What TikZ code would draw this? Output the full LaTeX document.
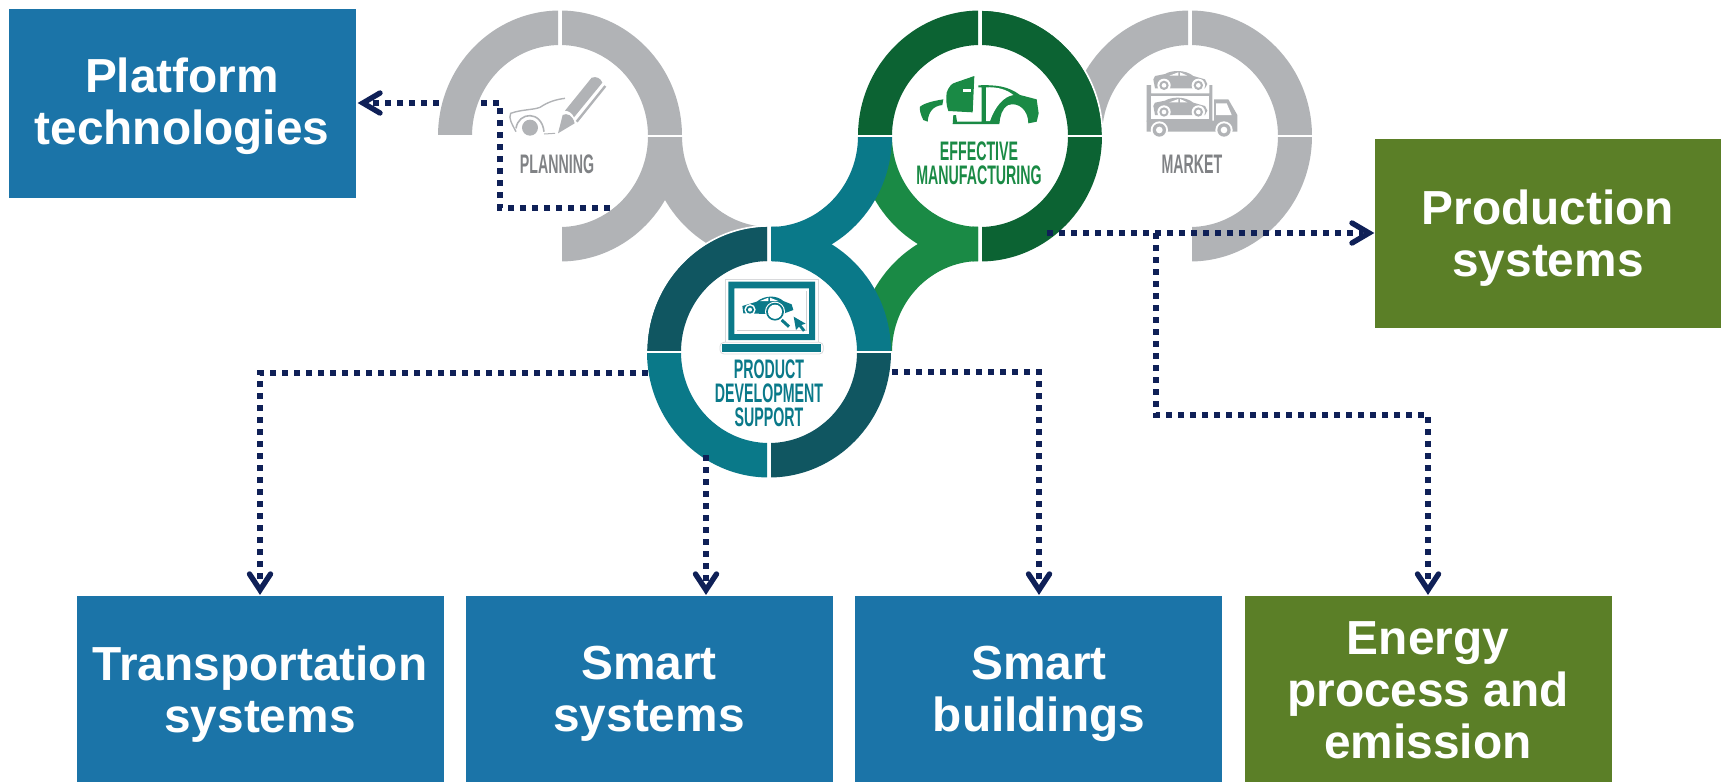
\documentclass[tikz,border=0pt]{standalone}
\usepackage{fontspec}
\setmainfont{Liberation Sans}
\newfontfamily\condfont[FakeStretch=0.53]{Liberation Sans Bold}
\definecolor{boxblue}{HTML}{1B74A8}
\definecolor{boxgreen}{HTML}{5B7F27}
\definecolor{navy}{HTML}{0F2057}
\definecolor{ringgrey}{HTML}{B1B3B6}
\definecolor{labgrey}{HTML}{808285}
\definecolor{dkgreen}{HTML}{0C6333}
\definecolor{ltgreen}{HTML}{1A8A45}
\definecolor{teal1}{HTML}{0A7989}
\definecolor{dkteal}{HTML}{105661}
\newcommand{\qring}[6]{%
  \begin{scope}
    \clip (#1+#3*2,#2+#4*1.8) rectangle (#1+#3*140,#2+#4*140);
    \fill[#5,even odd rule] (#1,#2) ellipse [x radius=122,y radius=125.5]
                            (#1,#2) ellipse [x radius=88,y radius=91];
    \draw[draw=#6,line width=.8pt] (#1,#2) ellipse [x radius=122.6,y radius=126.1];
  \end{scope}}
\tikzset{
  boxlabel/.style={text=white,font=\fontsize{23.9}{26}\selectfont\bfseries,align=center,inner sep=0pt},
  ringlabel/.style={font=\fontsize{13.4}{12}\selectfont\condfont,align=center,inner sep=0pt},
  dotline/.style={draw=navy,line width=3.2pt,dash pattern=on 3.2pt off 2.8pt},
  chev/.style={draw=navy,line width=2.7pt,line cap=round,line join=miter},
}
\begin{document}
\begin{tikzpicture}[x=.5pt,y=-.5pt]
\useasboundingbox (0,0) rectangle (1725,782);
% boxes
\path[fill=boxblue] (9,9) rectangle (356,198) node[midway,inner sep=0pt] (platform) {};
\path[fill=boxgreen] (1375,139) rectangle (1721,328) node[midway,inner sep=0pt] (production) {};
\path[fill=boxblue] (77,596) rectangle (444,782) node[midway,inner sep=0pt] (transport) {};
\path[fill=boxblue] (466,596) rectangle (833,782) node[midway,inner sep=0pt] (smartsys) {};
\path[fill=boxblue] (855,596) rectangle (1222,782) node[midway,inner sep=0pt] (smartbld) {};
\path[fill=boxgreen] (1245,596) rectangle (1612,782) node[midway,inner sep=0pt] (energy) {};
\node[boxlabel] (platformtxt) at (182,106.5) {Platform\\technologies};
\node[boxlabel] (productiontxt) at (1548,238.5) {Production\\systems};
\node[boxlabel] (transporttxt) at (260,694) {Transportation\\systems};
\node[boxlabel] (smartsystxt) at (649,694) {Smart\\systems};
\node[boxlabel] (smartbldtxt) at (1039,694) {Smart\\buildings};
\node[boxlabel] (energytxt) at (1428,690.5) {Energy\\process and\\emission};
% anchors
\coordinate (planA) at (610,208);
\coordinate (planB) at (500,208);
\coordinate (planC) at (500,103);
\coordinate (platIn) at (357,103);
% planning connector (behind rings)
\draw[dotline] (planA) -- (planB) -- (planC) -- ([xshift=6pt]platIn);
% rings: grey
\qring{560}{136}{-1}{-1}{ringgrey}{none}
\qring{560}{136}{1}{-1}{ringgrey}{none}
\qring{560}{136}{1}{1}{ringgrey}{none}
\qring{770}{136}{-1.5}{1}{ringgrey}{none}
\qring{1190}{136}{-1}{-1}{ringgrey}{none}
\qring{1190}{136}{1}{-1}{ringgrey}{none}
\qring{1190}{136}{1}{1}{ringgrey}{none}
% light green
\qring{980}{136}{-1}{1}{ltgreen}{none}
\qring{980}{352}{-1}{-1}{ltgreen}{none}
% teal
\qring{770}{136}{1}{1}{teal1}{none}
\qring{769}{352}{1}{-1}{teal1}{none}
\qring{769}{352}{-1}{1}{teal1}{none}
\qring{769}{352}{1}{1}{dkteal}{none}
\qring{769}{352}{-1}{-1}{dkteal}{white}
% dark green
\qring{980}{136}{-1}{-1}{dkgreen}{none}
\qring{980}{136}{1}{-1}{dkgreen}{white}
\qring{980}{136}{1}{1}{dkgreen}{none}
% labels
\node[ringlabel,text=labgrey] (planninglab) at (557,164) {PLANNING};
\node[ringlabel,text=labgrey] (marketlab) at (1192,164) {MARKET};
\node[ringlabel,text=ltgreen] (efflab) at (979,163) {EFFECTIVE\\MANUFACTURING};
\node[ringlabel,text=teal1] (prodlab) at (769,393) {PRODUCT\\DEVELOPMENT\\SUPPORT};
% planning icon
\begin{scope}[shift={(390,0)},x=.1666667pt,y=-.1666667pt]
  \fill[ringgrey] (420,383) circle [radius=24];
  \draw[ringgrey,line width=.7pt] (378,395) .. controls (365,370) and (355,355) .. (362,340)
     .. controls (395,328) and (430,330) .. (450,322) .. controls (475,305) and (500,298) .. (525,295);
  \draw[ringgrey,line width=.8pt] (378,385) .. controls (385,335) and (455,330) .. (462,395);
  \draw[ringgrey,line width=.5pt] (462,402) -- (495,400);
  \fill[ringgrey] (504,400) -- (518,345) .. controls (530,338) and (548,345) .. (554,370) -- cycle;
  \fill[ringgrey] (525,332) -- (605,233) .. controls (620,228) and (632,235) .. (637,248) -- (552,352) .. controls (548,340) and (535,332) .. (525,332) -- cycle;
  \draw[ringgrey,line width=1.2pt] (646,258) -- (560,365);
\end{scope}
% market icon
\begin{scope}[shift={(1130,50)},x=.1666667pt,y=-.1666667pt]
  \fill[ringgrey] (50,208) -- (50,105) -- (63,105) -- (63,130) -- (238,130) -- (238,105) -- (247,105) -- (247,215) -- (50,215) -- cycle;
  \fill[white] (63,138) rectangle (238,208);
  \fill[ringgrey] (50,212) -- (252,212) -- (252,148) -- (295,148) -- (322,195) -- (322,245) -- (50,245) -- cycle;
  \fill[white] (258,160) -- (290,160) -- (305,195) -- (258,195) -- cycle;
  \foreach \dy in {0,80}{
    \fill[ringgrey] (70,88+\dy) -- (75,78+\dy) -- (105,72+\dy) .. controls (125,60+\dy) and (165,58+\dy) .. (190,78+\dy) -- (225,88+\dy) -- (232,102+\dy) -- (225,115+\dy) -- (75,115+\dy) -- cycle;
    \fill[white] (118,77+\dy) -- (145,67+\dy) -- (145,77+\dy) -- cycle (150,67+\dy) -- (172,77+\dy) -- (150,77+\dy) -- cycle;
    \foreach \wx in {102,205}{
      \fill[white] (\wx,106+\dy) circle [radius=20];
      \fill[ringgrey] (\wx,106+\dy) circle [radius=14];
      \fill[white] (\wx,106+\dy) circle [radius=7];
    }
  }
  \foreach \wx in {88,282}{
    \fill[white] (\wx,240) circle [radius=26];
    \fill[ringgrey] (\wx,240) circle [radius=20];
    \fill[white] (\wx,240) circle [radius=10];
  }
\end{scope}
% effective icon
\begin{scope}[shift={(880,50)},x=.1666667pt,y=-.1666667pt]
  \fill[ltgreen] (120,170) .. controls (135,158) and (165,152) .. (190,148) -- (187,165) .. controls (160,168) and (145,185) .. (143,215) -- (130,210) .. controls (122,195) and (118,180) .. (120,170) -- cycle;
  \fill[ltgreen] (200,128) .. controls (205,112) and (215,100) .. (225,98) -- (283,78) -- (278,187) -- (205,183) .. controls (198,165) and (198,145) .. (200,128) -- cycle;
  \fill[white] (250,118) rectangle (272,127);
  \fill[ltgreen] (220,195) -- (228,195) -- (231,215) -- (305,215) -- (305,112) -- (295,112) -- (295,106) .. controls (345,104) and (385,108) .. (420,135) -- (470,148) -- (476,190) -- (470,215) -- (445,220) .. controls (445,180) and (415,155) .. (385,165) .. controls (365,175) and (360,200) .. (358,222) -- (218,222) -- cycle;
  \fill[white] (318,112) .. controls (350,110) and (380,118) .. (400,135) .. controls (370,140) and (345,170) .. (330,213) -- (318,213) -- cycle;
\end{scope}
% product icon
\begin{scope}[shift={(715,275)},x=.1666667pt,y=-.1666667pt]
  \draw[ringgrey!50,line width=.4pt] (30,200) -- (30,12) -- (310,12) -- (310,200);
  \draw[ringgrey!50,line width=.4pt,rounded corners=2pt] (15,202) rectangle (325,237);
  \fill[teal1,even odd rule] (40,20) rectangle (300,195) (58,40) rectangle (282,177);
  \fill[teal1] (22,206) rectangle (318,230);
  \draw[ringgrey!60,line width=.4pt] (66,167) -- (275,167) -- (275,47);
  \fill[teal1] (82,93) -- (125,80) .. controls (150,60) and (185,60) .. (205,78) -- (230,88) -- (235,105) -- (200,118) -- (85,115) -- cycle;
  \fill[white] (135,78) -- (160,68) -- (160,78) -- cycle (165,68) -- (190,78) -- (165,78) -- cycle;
  \fill[white] (105,104) circle [radius=17];
  \fill[teal1] (105,104) circle [radius=12];
  \fill[white] (105,104) circle [radius=6];
  \draw[white,line width=1pt] (180,110) circle [radius=27];
  \draw[teal1,line width=.9pt] (180,110) circle [radius=24];
  \fill[white] (180,110) circle [radius=21];
  \draw[teal1,line width=1.5pt] (200,135) -- (222,155);
  \fill[teal1] (236,125) -- (272,146) -- (259,150) -- (271,165) -- (264,170) -- (252,155) -- (243,165) -- cycle;
\end{scope}
% connectors from rings
\coordinate (effOut) at (1047,233);
\coordinate (prodIn) at (1375,233);
\coordinate (branch) at (1156,233);
\coordinate (branchB) at (1156,415);
\coordinate (branchC) at (1428,415);
\coordinate (energyIn) at (1428,596);
\coordinate (pdL) at (648,373);
\coordinate (pdLb) at (260,373);
\coordinate (transIn) at (260,596);
\coordinate (pdM) at (706,455);
\coordinate (smsIn) at (706,596);
\coordinate (pdR) at (892,372);
\coordinate (pdRb) at (1039,372);
\coordinate (smbIn) at (1039,596);
\draw[dotline] (effOut) -- ([xshift=-6pt]prodIn);
\draw[dotline] (branch) -- (branchB) -- (branchC) -- ([yshift=6pt]energyIn);
\draw[dotline] (pdL) -- (pdLb) -- ([yshift=6pt]transIn);
\draw[dotline] (pdM) -- ([yshift=6pt]smsIn);
\draw[dotline] (pdR) -- (pdRb) -- ([yshift=6pt]smbIn);
% chevrons: vertex set back so that the mitre reaches the box edge
\draw[chev] ([shift={(23,-10)}]platIn) -- ([shift={(6,0)}]platIn) -- ([shift={(23,10)}]platIn);
\draw[chev] ([shift={(-23,-10)}]prodIn) -- ([shift={(-6,0)}]prodIn) -- ([shift={(-23,10)}]prodIn);
\foreach \tip in {transIn,smsIn,smbIn,energyIn}
  \draw[chev] ([shift={(-10.5,-22)}]\tip) -- ([shift={(0,-6)}]\tip) -- ([shift={(10.5,-22)}]\tip);
\end{tikzpicture}
\end{document}
